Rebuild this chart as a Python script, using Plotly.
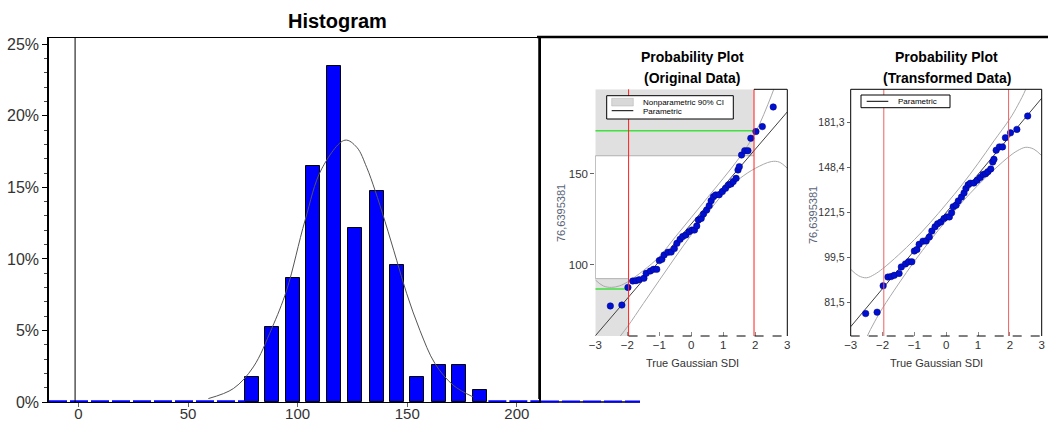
import plotly.graph_objects as go

W, H = 1048, 423
def px(x): return x / W
def py(y): return 1 - y / H

# ---------------- Histogram data ----------------
bin_centers = [79.2, 88.4, 97.8, 107.2, 116.5, 126.3, 136.1, 145.5, 154.6, 164.4, 173.8, 183.3]
bin_pct = [1.74, 5.22, 8.70, 16.52, 23.48, 12.17, 14.78, 9.57, 1.74, 2.61, 2.61, 0.87]
curve_x = [59.3, 70.7, 79.8, 88.2, 95.0, 103.4, 111.0, 121.6, 127.0, 131.5, 135.3, 139.9, 145.2, 149.7, 155.8, 162.6, 171.0, 180.1]
curve_y = [0.24, 0.94, 2.45, 5.14, 7.82, 12.7, 16.3, 18.3, 17.8, 16.4, 14.8, 12.6, 9.9, 7.6, 5.0, 2.7, 1.17, 0.35]
hist_xticks = [0, 50, 100, 150, 200]
hist_yticks = [0, 5, 10, 15, 20, 25]
hist_ylabels = ["0%", "5%", "10%", "15%", "20%", "25%"]

# ---------------- Probability plot data ----------------
pp_z = [-2.53, -2.17, -1.98, -1.83, -1.73, -1.63, -1.48, -1.41, -1.28, -1.18, -1.08, -1.00, -0.92, -0.85,
        -0.73, -0.63, -0.53, -0.45, -0.35, -0.27, -0.17, -0.07, 0.02, 0.10, 0.17, 0.22, 0.31, 0.38, 0.48,
        0.56, 0.62, 0.69, 0.76, 0.87, 0.97, 1.07, 1.16, 1.24, 1.31, 1.40, 1.46, 1.50, 1.57, 1.67, 1.77,
        1.86, 2.02, 2.22, 2.56]
pp_val = [77.5, 78.0, 87.7, 91.2, 91.4, 91.9, 92.7, 95.4, 96.7, 97.6, 97.6, 102.4, 103.1, 105.5,
          107.0, 107.1, 109.0, 111.9, 114.1, 115.6, 116.5, 118.3, 119.2, 119.2, 121.4, 124.7, 125.6, 128.0, 130.2,
          132.6, 135.3, 137.5, 138.5, 138.6, 140.3, 142.1, 144.0, 144.5, 145.8, 147.6, 152.2, 154.0, 160.4, 162.8, 162.8,
          169.6, 173.3, 176.0, 186.8]
# original-data fit line and 90% bands
orig_line_z = [-3, 3]
orig_line_v = [61.1, 184.1]
orig_up_z = [-3.0, -2.75, -2.5, -2.25, -2.0, -1.5, -1.0, -0.5, 0.0, 0.5, 1.0, 1.5, 2.0, 2.5, 2.75]
orig_up_v = [91.8, 88.5, 87.7, 88.5, 90.6, 96.9, 104.6, 115.4, 126.1, 136.9, 147.6, 158.9, 172.6, 192.9, 205.0]
orig_lo_z = [-2.4, -2.0, -1.5, -1.0, -0.5, 0.0, 0.5, 1.0, 1.5, 2.0, 2.5, 2.75, 3.0]
orig_lo_v = [57.0, 66.0, 78.8, 91.6, 104.3, 116.6, 128.3, 139.1, 147.3, 153.1, 156.8, 156.5, 153.1]
# transformed-data fit line and bands
tr_line_z = [-3, 3]
tr_line_v = [73.1, 202.2]
tr_band_z = [-3.0, -2.75, -2.5, -2.25, -2.0, -1.5, -1.0, -0.5, 0.0, 0.5, 1.0, 1.5, 2.0, 2.25, 2.5, 2.75, 3.0]
tr_up_v = [94.4, 91.7, 90.9, 92.3, 94.6, 100.6, 107.7, 116.2, 126.2, 137.6, 151.2, 167.2, 184.5, 196.0, 210.5, 233.0, 261.0]
tr_lo_v = [56.6, 63.5, 69.7, 74.7, 79.4, 88.4, 97.8, 107.4, 117.2, 127.3, 137.3, 147.0, 156.4, 160.2, 162.5, 161.2, 156.6]
tr_tickvals = [81.5, 99.5, 121.5, 148.4, 181.3]
tr_ticktext = ["81,5", "99,5", "121,5", "148,4", "181,3"]
sdi_ticks = [-3, -2, -1, 0, 1, 2, 3]
crit = 1.96
ci_hi, ci_lo = 160.0, 92.5
green_hi, green_lo = 173.8, 86.8

FONT = "Liberation Sans"
NARROW = "Liberation Sans Narrow, Liberation Sans, Arial"
ZERO_DASH = "18px,3px"

fig = go.Figure()

# ---- histogram traces ----
fig.add_trace(go.Bar(x=bin_centers, y=bin_pct, width=6.4, marker=dict(color="#0000ff", line=dict(color="#000000", width=1)),
                     xaxis="x", yaxis="y", showlegend=False))
fig.add_trace(go.Scatter(x=curve_x, y=curve_y, mode="lines", line=dict(color="#555555", width=1, shape="spline"),
                         xaxis="x", yaxis="y", showlegend=False))
fig.add_trace(go.Scatter(x=[-13.4, 76], y=[0.05, 0.05], mode="lines", line=dict(color="#0000ff", width=2, dash=ZERO_DASH),
                         xaxis="x", yaxis="y", showlegend=False, hoverinfo="skip", cliponaxis=False))
fig.add_trace(go.Scatter(x=[187, 210.2], y=[0.05, 0.05], mode="lines", line=dict(color="#0000ff", width=2, dash=ZERO_DASH),
                         xaxis="x", yaxis="y", showlegend=False, hoverinfo="skip", cliponaxis=False))

# ---- probability plot (original) ----
fig.add_trace(go.Scatter(x=orig_up_z, y=orig_up_v, mode="lines", line=dict(color="#a8a8a8", width=1, shape="spline"),
                         xaxis="x2", yaxis="y2", showlegend=False))
fig.add_trace(go.Scatter(x=orig_lo_z, y=orig_lo_v, mode="lines", line=dict(color="#a8a8a8", width=1, shape="spline"),
                         xaxis="x2", yaxis="y2", showlegend=False))
fig.add_trace(go.Scatter(x=orig_line_z, y=orig_line_v, mode="lines", line=dict(color="#404040", width=1),
                         xaxis="x2", yaxis="y2", showlegend=False))
fig.add_trace(go.Scatter(x=pp_z, y=pp_val, mode="markers",
                         marker=dict(color="#0010d0", size=6.5, line=dict(color="#000080", width=0.5)),
                         xaxis="x2", yaxis="y2", showlegend=False))

# ---- probability plot (transformed) ----
fig.add_trace(go.Scatter(x=tr_band_z, y=tr_up_v, mode="lines", line=dict(color="#a8a8a8", width=1, shape="spline"),
                         xaxis="x3", yaxis="y3", showlegend=False))
fig.add_trace(go.Scatter(x=tr_band_z, y=tr_lo_v, mode="lines", line=dict(color="#a8a8a8", width=1, shape="spline"),
                         xaxis="x3", yaxis="y3", showlegend=False))
fig.add_trace(go.Scatter(x=tr_line_z, y=tr_line_v, mode="lines", line=dict(color="#404040", width=1),
                         xaxis="x3", yaxis="y3", showlegend=False))
fig.add_trace(go.Scatter(x=pp_z, y=pp_val, mode="markers",
                         marker=dict(color="#0010d0", size=6.5, line=dict(color="#000080", width=0.5)),
                         xaxis="x3", yaxis="y3", showlegend=False))

pp_top, pp_bot = 89.3, 336
o_l, o_r = 595.3, 787.3
t_l, t_r = 850.7, 1041.7

shapes = []
# histogram zero vertical line
shapes.append(dict(type="line", xref="x", yref="y domain", x0=-1.5, x1=-1.5, y0=0, y1=1, line=dict(color="#000", width=1)))
# extension of histogram baseline under the panel
shapes.append(dict(type="line", xref="paper", yref="paper", x0=px(539), x1=px(640), y0=py(402), y1=py(402),
                   line=dict(color="#000", width=1.5)))
shapes.append(dict(type="line", xref="paper", yref="paper", x0=px(541), x1=px(640), y0=py(401.5), y1=py(401.5),
                   line=dict(color="#0000ff", width=2, dash=ZERO_DASH)))
# panel borders
shapes.append(dict(type="line", xref="paper", yref="paper", x0=px(537), x1=1, y0=py(37), y1=py(37),
                   line=dict(color="#000", width=2.5)))
shapes.append(dict(type="line", xref="paper", yref="paper", x0=px(539), x1=px(539), y0=py(37), y1=py(399),
                   line=dict(color="#000", width=1.5)))

# original-plot decorations
shapes.append(dict(type="rect", xref="x2", yref="y2", x0=-3, x1=crit, y0=ci_hi, y1=196.5, layer="below",
                   fillcolor="#e0e0e0", line=dict(width=0)))
shapes.append(dict(type="rect", xref="x2", yref="y2", x0=-3, x1=-crit, y0=61.0, y1=ci_lo, layer="below",
                   fillcolor="#e0e0e0", line=dict(width=0)))
shapes.append(dict(type="line", xref="x2", yref="y2", x0=-3, x1=crit, y0=ci_hi, y1=ci_hi, layer="below",
                   line=dict(color="#b0b0b0", width=1)))
shapes.append(dict(type="line", xref="x2", yref="y2", x0=-3, x1=-crit, y0=ci_lo, y1=ci_lo, layer="below",
                   line=dict(color="#b0b0b0", width=1)))
shapes.append(dict(type="line", xref="x2", yref="y2", x0=-3, x1=-3, y0=ci_lo, y1=ci_hi, layer="below",
                   line=dict(color="#909090", width=1)))
shapes.append(dict(type="line", xref="x2", yref="y2", x0=-3, x1=crit, y0=green_hi, y1=green_hi, layer="below",
                   line=dict(color="#40e040", width=1.5)))
shapes.append(dict(type="line", xref="x2", yref="y2", x0=-3, x1=-crit, y0=green_lo, y1=green_lo, layer="below",
                   line=dict(color="#40e040", width=1.5)))
for xv in (-crit, crit):
    shapes.append(dict(type="line", xref="x2", yref="paper", x0=xv, x1=xv, y0=py(pp_bot), y1=py(pp_top),
                       line=dict(color="#ff2020", width=1)))
shapes.append(dict(type="line", xref="paper", yref="paper", x0=px(o_r), x1=px(o_r), y0=py(pp_bot), y1=py(pp_top),
                   line=dict(color="#000", width=1)))
shapes.append(dict(type="line", xref="x2", yref="paper", x0=crit, x1=3, y0=py(pp_top), y1=py(pp_top),
                   line=dict(color="#000", width=1)))
shapes.append(dict(type="line", xref="x2", yref="paper", x0=-crit, x1=3, y0=py(pp_bot), y1=py(pp_bot),
                   line=dict(color="#000", width=1, dash="dash")))

# transformed-plot decorations
for xv in (-crit, crit):
    shapes.append(dict(type="line", xref="x3", yref="paper", x0=xv, x1=xv, y0=py(pp_bot), y1=py(pp_top),
                       line=dict(color="#f06060", width=1)))
shapes.append(dict(type="line", xref="paper", yref="paper", x0=px(t_l), x1=px(t_l), y0=py(pp_bot), y1=py(pp_top),
                   line=dict(color="#000", width=1)))
shapes.append(dict(type="line", xref="paper", yref="paper", x0=px(t_r), x1=px(t_r), y0=py(pp_bot), y1=py(pp_top),
                   line=dict(color="#000", width=1)))
shapes.append(dict(type="line", xref="paper", yref="paper", x0=px(t_l), x1=px(t_r), y0=py(pp_top), y1=py(pp_top),
                   line=dict(color="#000", width=1)))
shapes.append(dict(type="line", xref="paper", yref="paper", x0=px(t_l), x1=px(t_r), y0=py(pp_bot), y1=py(pp_bot),
                   line=dict(color="#000", width=1, dash="dash")))

# legend boxes
shapes.append(dict(type="rect", xref="paper", yref="paper", x0=px(606.7), x1=px(733.3), y0=py(119), y1=py(95.7),
                   fillcolor="#ffffff", line=dict(color="#000", width=1)))
shapes.append(dict(type="rect", xref="paper", yref="paper", x0=px(611.7), x1=px(633.3), y0=py(106), y1=py(98.3),
                   fillcolor="#d8d8d8", line=dict(color="#b0b0b0", width=0.5)))
shapes.append(dict(type="line", xref="paper", yref="paper", x0=px(611.7), x1=px(633.3), y0=py(110.7), y1=py(110.7),
                   line=dict(color="#000", width=1)))
shapes.append(dict(type="rect", xref="paper", yref="paper", x0=px(861), x1=px(950), y0=py(107.7), y1=py(95),
                   fillcolor="#ffffff", line=dict(color="#000", width=1)))
shapes.append(dict(type="line", xref="paper", yref="paper", x0=px(866.7), x1=px(888.3), y0=py(101.3), y1=py(101.3),
                   line=dict(color="#000", width=1)))

annotations = []
def ann(text, x, y, size, color="#000", bold=False, xanchor="center", family=FONT, angle=0):
    annotations.append(dict(text=("<b>%s</b>" % text) if bold else text, x=px(x), y=py(y), xref="paper", yref="paper",
                            showarrow=False, xanchor=xanchor, yanchor="middle", textangle=angle,
                            font=dict(size=size, color=color, family=family)))

ann("Histogram", 337.5, 21, 20, bold=True)
ann("Probability Plot", 692, 57, 14, bold=True, family=NARROW)
ann("(Original Data)", 692, 78, 14, bold=True, family=NARROW)
ann("Probability Plot", 946.7, 57, 14, bold=True, family=NARROW)
ann("(Transformed Data)", 946.7, 78, 14, bold=True, family=NARROW)
ann("76,6395381", 561, 213, 11, color="#5a6478", family=NARROW, angle=-90)
ann("76,6395381", 813, 215, 11, color="#5a6478", family=NARROW, angle=-90)
ann("True Gaussian SDI", 692, 363, 11, color="#333", family=NARROW)
ann("True Gaussian SDI", 936.7, 363, 11, color="#333", family=NARROW)
ann("Nonparametric 90% CI", 641, 102, 8, color="#000", family=NARROW, xanchor="left")
ann("Parametric", 641, 111.2, 8, color="#000", family=NARROW, xanchor="left")
ann("Parametric", 896, 101.3, 8, color="#000", family=NARROW, xanchor="left")

fig.update_layout(
    template="none",
    width=W, height=H, autosize=False, margin=dict(l=0, r=0, t=0, b=0, autoexpand=False),
    paper_bgcolor="#ffffff", plot_bgcolor="rgba(0,0,0,0)", showlegend=False, bargap=0,
    xaxis=dict(domain=[px(49), px(539)], range=[-13.4, 210.1], tickvals=hist_xticks, ticks="outside", ticklen=4,
               tickcolor="#666", showgrid=False, zeroline=False, showline=True, linecolor="#000", linewidth=1, mirror=True,
               tickfont=dict(size=15, color="#333", family=FONT), anchor="y", automargin=False, ticklabelstandoff=-6),
    yaxis=dict(domain=[py(402), py(38)], range=[0, 25.44], tickvals=hist_yticks, ticktext=hist_ylabels, ticks="outside",
               ticklen=5, tickcolor="#000", showgrid=False, zeroline=False, showline=True, linecolor="#000", linewidth=1.5,
               mirror=True, tickfont=dict(size=16, color="#333", family=FONT), anchor="x", automargin=False,
               minor=dict(dtick=1, ticks="outside", ticklen=3, tickcolor="#444")),
    xaxis2=dict(domain=[px(o_l), px(o_r)], range=[-3, 3], tickvals=sdi_ticks, ticks="inside", ticklen=4,
                tickcolor="#888", showgrid=False, zeroline=False, showline=False, automargin=False,
                tickfont=dict(size=11.5, color="#333", family=NARROW), anchor="y2"),
    yaxis2=dict(domain=[py(pp_bot), py(pp_top)], range=[61.0, 196.5], tickvals=[100, 150], ticks="outside", ticklen=4,
                tickcolor="#666", showgrid=False, zeroline=False, showline=False, automargin=False,
                tickfont=dict(size=11.5, color="#333", family=NARROW), anchor="x2"),
    xaxis3=dict(domain=[px(t_l), px(t_r)], range=[-3, 3], tickvals=sdi_ticks, ticks="inside", ticklen=4,
                tickcolor="#888", showgrid=False, zeroline=False, showline=False, automargin=False,
                tickfont=dict(size=11.5, color="#333", family=NARROW), anchor="y3"),
    yaxis3=dict(domain=[py(pp_bot), py(pp_top)], type="log", range=[1.846, 2.323], tickvals=tr_tickvals,
                ticktext=tr_ticktext, ticks="outside", ticklen=3, tickcolor="#666", showgrid=False, zeroline=False,
                showline=False, automargin=False, tickfont=dict(size=10.5, color="#333", family=NARROW), anchor="x3"),
    shapes=shapes, annotations=annotations,
)

fig.write_html("out.html")
